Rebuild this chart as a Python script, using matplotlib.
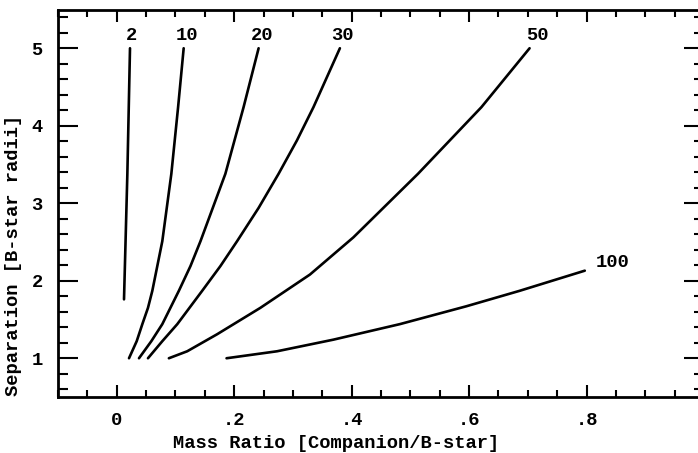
import matplotlib
matplotlib.use("Agg")
import matplotlib.pyplot as plt
from matplotlib.ticker import MultipleLocator, FixedLocator

# mass ratio (x) and separation (y), one pair per label
q_2 = [0.0124, 0.0181, 0.0226]
sep_2 = [1.76, 3.38, 5.0]

q_10 = [0.0209, 0.034, 0.0436, 0.0532, 0.0606, 0.0776, 0.093, 0.1045, 0.114]
sep_10 = [1.0, 1.22, 1.44, 1.65, 1.87, 2.51, 3.38, 4.24, 5.0]

q_20 = [0.0379, 0.0589, 0.0776, 0.1058, 0.1256, 0.1426, 0.185, 0.216, 0.2416]
sep_20 = [1.0, 1.22, 1.44, 1.87, 2.19, 2.51, 3.38, 4.24, 5.0]

q_30 = [0.0532, 0.0776, 0.1031, 0.1455, 0.1766, 0.2049, 0.2416, 0.2756,
        0.3068, 0.335, 0.380]
sep_30 = [1.0, 1.22, 1.44, 1.87, 2.19, 2.51, 2.94, 3.38, 3.81, 4.24, 5.0]

q_50 = [0.0888, 0.12, 0.171, 0.2445, 0.329, 0.403, 0.513, 0.621, 0.703]
sep_50 = [1.0, 1.09, 1.31, 1.65, 2.08, 2.56, 3.38, 4.24, 5.0]

q_100 = [0.187, 0.273, 0.369, 0.482, 0.595, 0.686, 0.797]
sep_100 = [1.0, 1.09, 1.24, 1.44, 1.67, 1.87, 2.13]

curve_labels = ["2", "10", "20", "30", "50", "100"]
label_x = [0.025, 0.120, 0.248, 0.385, 0.716, 0.845]
label_y = [5.17, 5.17, 5.17, 5.17, 5.16, 2.23]

x_ticks = [0, 0.2, 0.4, 0.6, 0.8, 1.0]
x_ticklabels = ["0", ".2", ".4", ".6", ".8", "1"]
y_ticks = [1, 2, 3, 4, 5]
y_ticklabels = ["1", "2", "3", "4", "5"]

FONT = "Liberation Mono"
FS = 13.5

fig = plt.figure(figsize=(6.98, 4.53), dpi=100)
W, H = 698, 453
ax = fig.add_axes([58 / W, (H - 397) / H, 646 / W, 387.5 / H])

curves = [(q_2, sep_2), (q_10, sep_10), (q_20, sep_20),
          (q_30, sep_30), (q_50, sep_50), (q_100, sep_100)]
for q, s in curves:
    ax.plot(q, s, color="black", lw=1.9, solid_capstyle="round",
            solid_joinstyle="round")

for txt, x, y in zip(curve_labels, label_x, label_y):
    ax.text(x, y, txt, ha="center", va="center", fontsize=FS,
            family=FONT, fontweight="bold")

ax.set_xlim(-0.1, 1.0)
ax.set_ylim(0.5, 5.5)

ax.xaxis.set_major_locator(FixedLocator(x_ticks))
ax.set_xticklabels(x_ticklabels)
ax.xaxis.set_minor_locator(MultipleLocator(0.05))
ax.yaxis.set_major_locator(FixedLocator(y_ticks))
ax.set_yticklabels(y_ticklabels)
ax.yaxis.set_minor_locator(MultipleLocator(0.2))

ax.tick_params(axis="both", which="both", direction="in",
               top=True, right=True, width=1.5, color="black")
ax.tick_params(axis="x", which="major", length=8.5, pad=11)
ax.tick_params(axis="x", which="minor", length=5)
ax.tick_params(axis="y", which="major", length=14.5, pad=11)
ax.tick_params(axis="y", which="minor", length=7.5)

for lab in ax.get_xticklabels() + ax.get_yticklabels():
    lab.set_family(FONT)
    lab.set_fontsize(FS)
    lab.set_fontweight("bold")

for sp in ax.spines.values():
    sp.set_linewidth(2)

fig.text(336 / W, 1 - 443 / H, "Mass Ratio [Companion/B-star]",
         ha="center", va="center", fontsize=FS, family=FONT, fontweight="bold")
fig.text(14 / W, 1 - 255 / H, "Separation [B-star radii]", rotation=90,
         ha="center", va="center", fontsize=FS, family=FONT, fontweight="bold")

fig.savefig("out.png", dpi=100)
